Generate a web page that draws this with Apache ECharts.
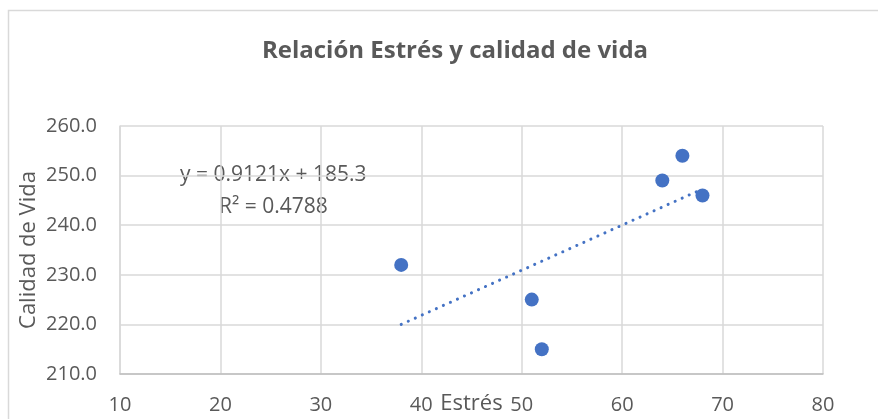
<!DOCTYPE html>
<html>
<head>
<meta charset="utf-8">
<script src="https://cdn.jsdelivr.net/npm/echarts@6/dist/echarts.min.js"></script>
<style>
  html, body { margin: 0; padding: 0; background: #fff; }
  #chart { width: 878px; height: 419px; }
</style>
</head>
<body>
<div id="chart"></div>
<script>
// puntos
const estres = [38, 51, 52, 64, 66, 68]
const calidad = [232, 225, 215, 249, 254, 246]

// línea de tendencia (extremos leídos)
const trendX = [38, 68]
const trendY = [220.0, 247.3]

const eqText = 'y = 0.9121x + 185.3'
const r2Text = 'R² = 0.4788'

const txt = '#595959'
const grid = '#d9d9d9'
const blue = '#4472c4'
const font = 'Open Sans'

let points = estres.map((x, i) => [x, calidad[i]])
let trend = trendX.map((x, i) => [x, trendY[i]])

echarts.init(document.querySelector('#chart')).setOption({
    animation: false,
    title: {
        text: 'Relación Estrés y calidad de vida',
        left: 450,
        textAlign: 'center',
        top: 34,
        textStyle: { color: txt, fontSize: 24, fontWeight: 'bold', fontFamily: font }
    },
    grid: { left: 120, right: 55, top: 126, bottom: 45, containLabel: false, outerBoundsMode: 'none' },
    xAxis: {
        type: 'value',
        min: 10, max: 80, interval: 10,
        name: 'Estrés',
        nameLocation: 'middle',
        nameGap: 19,
        nameMoveOverlap: false,
        nameTextStyle: { color: txt, fontSize: 22, fontFamily: font },
        axisLine: { show: true, lineStyle: { color: '#bfbfbf', width: 1.5 } },
        axisTick: { show: false },
        axisLabel: { color: txt, fontSize: 20, fontFamily: font, margin: 21 },
        splitLine: { show: true, lineStyle: { color: grid, width: 1.5 } }
    },
    yAxis: {
        type: 'value',
        min: 210, max: 260, interval: 10,
        name: 'Calidad de Vida',
        nameLocation: 'middle',
        nameGap: 80,
        nameMoveOverlap: false,
        nameTextStyle: { color: txt, fontSize: 22, fontFamily: font },
        axisLine: { show: true, lineStyle: { color: grid, width: 1.5 } },
        axisTick: { show: false },
        axisLabel: {
            color: txt, fontSize: 20, fontFamily: font, margin: 23,
            formatter: v => v.toFixed(1)
        },
        splitLine: { show: true, lineStyle: { color: grid, width: 1.5 } }
    },
    graphic: [
        {
            type: 'rect', silent: true,
            shape: { x: 8.5, y: 10.5, width: 1000, height: 1000 },
            style: { fill: 'none', stroke: grid, lineWidth: 1.5 }
        },
        {
            type: 'text', left: 180, top: 165,
            style: { text: eqText, fill: txt, fontSize: 21, fontFamily: font }
        },
        {
            type: 'text', left: 219, top: 197,
            style: { text: r2Text, fill: txt, fontSize: 21, fontFamily: font }
        }
    ],
    series: [
        {
            type: 'line',
            data: trend,
            symbol: 'none',
            z: 1,
            lineStyle: { color: blue, width: 3, type: [0.1, 7.6], cap: 'round' }
        },
        {
            type: 'scatter',
            data: points,
            symbolSize: 14,
            z: 2,
            itemStyle: { color: blue, opacity: 1 }
        }
    ]
});
</script>
</body>
</html>
